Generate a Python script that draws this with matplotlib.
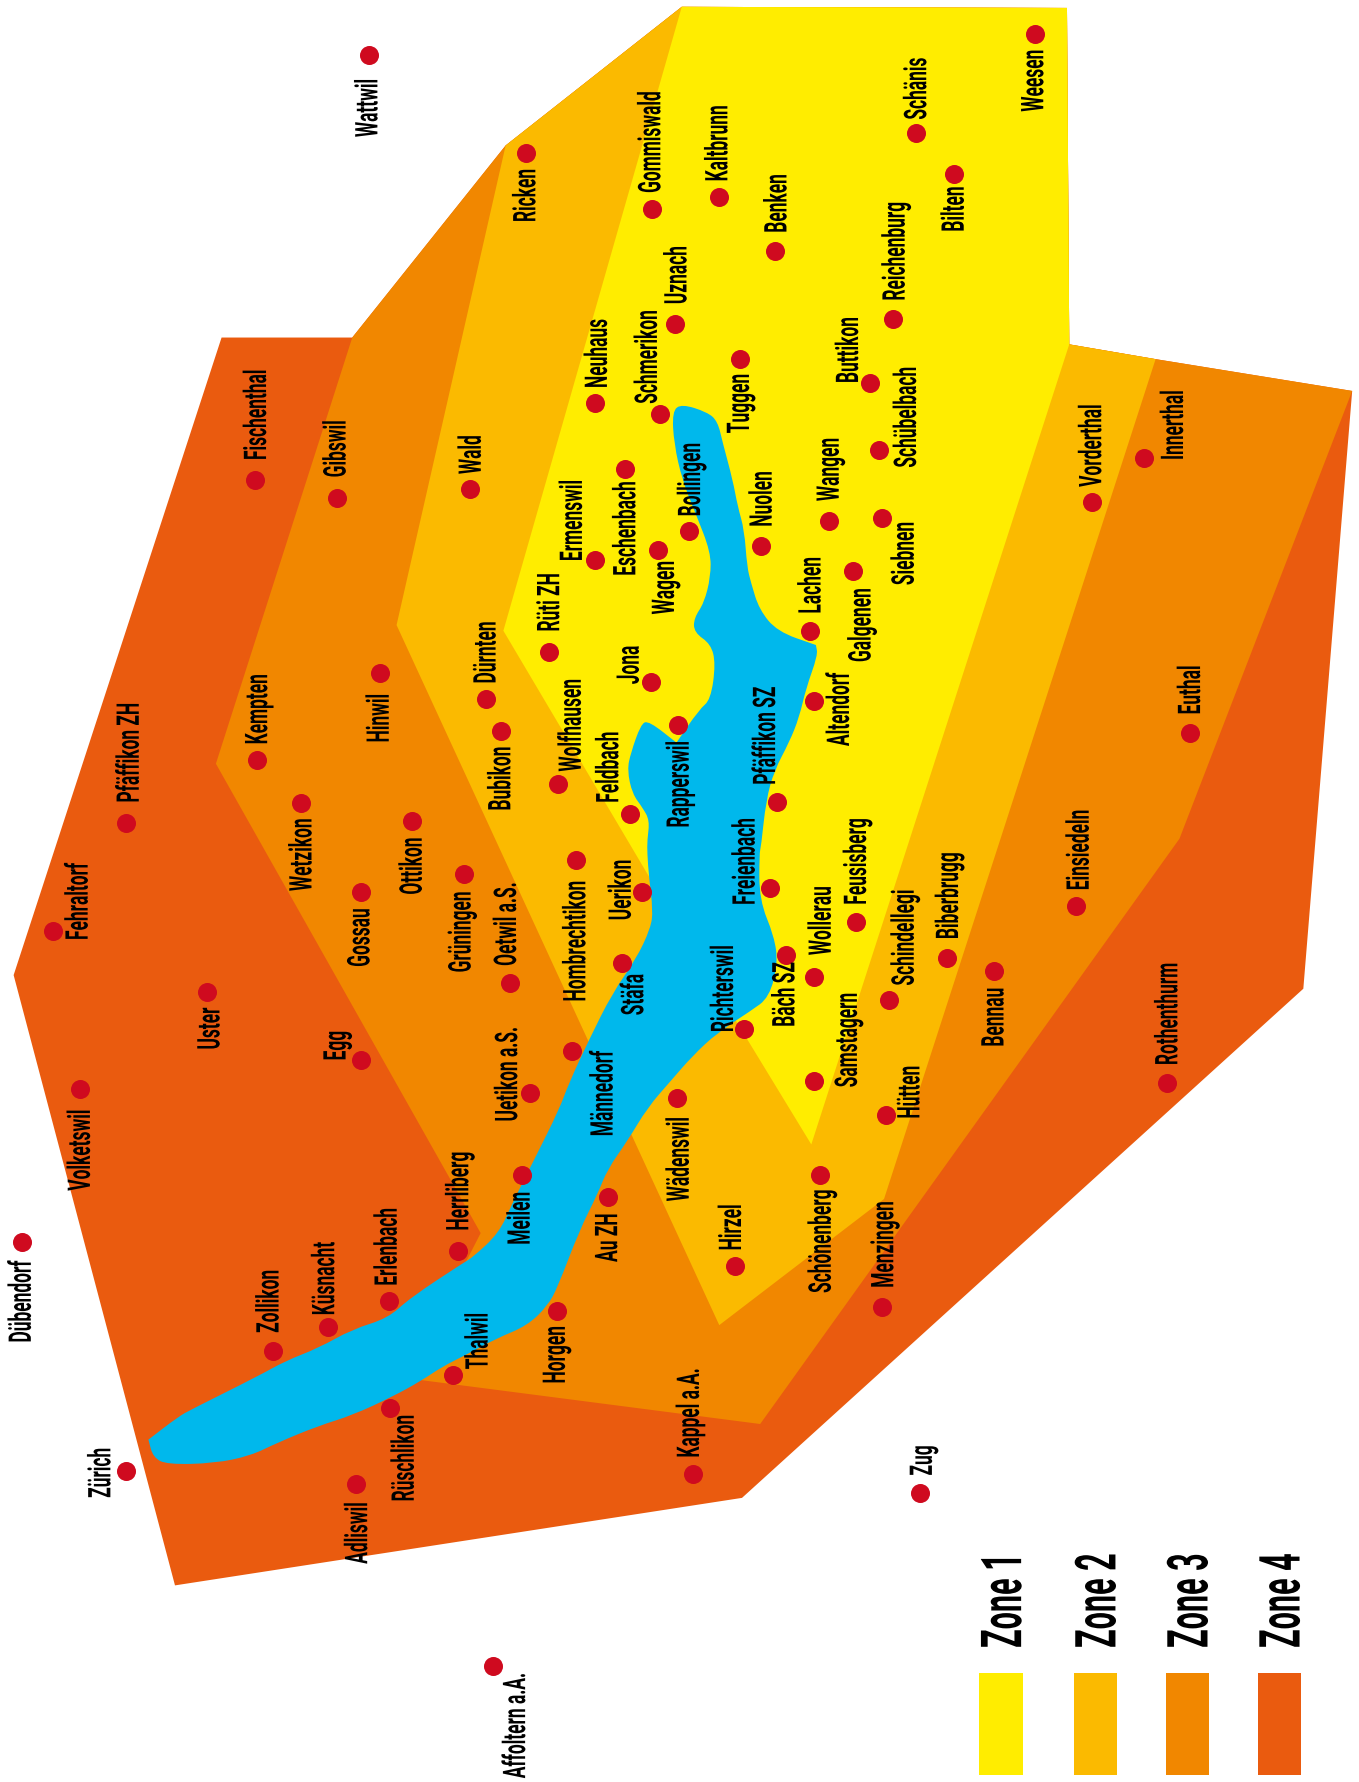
import numpy as np
import matplotlib
matplotlib.use("Agg")
import matplotlib.pyplot as plt
from matplotlib.patches import Polygon, Rectangle, PathPatch
from matplotlib.path import Path
from matplotlib.patheffects import AbstractPathEffect
from matplotlib.transforms import Affine2D

plt.rcParams['font.family'] = ['Roboto', 'DejaVu Sans']

# map coordinates, y pointing down
zone4_outline = [(12, 858), (195, 297), (310, 297), (445, 128), (600, 6), (939, 7), (941, 303),
                 (1017, 316), (1190, 344), (1147, 870), (653, 1318), (154, 1395)]
zone3_outline = [(190, 672), (310, 297), (445, 128), (600, 6), (939, 7), (941, 303), (1017, 316),
                 (1190, 344), (1038, 738), (669, 1253), (360, 1213), (400, 1130), (423, 1085)]
zone2_outline = [(349, 550), (445, 128), (600, 6), (939, 7), (941, 303), (1017, 316),
                 (778, 1055), (633, 1166)]
zone1_outline = [(443, 555), (600, 6), (939, 7), (941, 303), (714, 1007), (600, 820)]

# lake traced in full image pixels, a repeated point keeps a corner sharp
lake_x = [681.7, 706.7, 716.7, 721.7, 731.7, 736.7, 743.3, 746, 750, 758.3, 776.7, 815, 815, 816.7, 805,
          798.3, 788.3, 773.3, 765, 760, 758.3, 758.3, 773.3, 776.7, 768.3, 750, 716.7, 691.7, 670,
          646.7, 626.7, 606.7, 596.7, 578.3, 556.7, 546.7, 526.8, 495.5, 464.3, 442, 419.6, 392.9,
          352.7, 317, 276.8, 250, 214.3, 167.4, 154, 149.6, 149.6, 178.6, 192, 259, 285.7, 319, 352.7,
          388.4, 410.7, 464.3, 473.3, 500, 513.3, 536.7, 560, 570, 590, 613.3, 636.7, 651.7, 654,
          650, 648.3, 648.3, 650.7, 643.3, 633.3, 628.3, 631.7, 641.7, 648.3, 676.7, 676.7, 700,
          711.7, 716.7, 711.7, 695, 695, 705, 711.7, 711.7, 696.7, 683.3, 675, 673.3]
lake_y = [405, 413, 421.7, 443, 480, 506.7, 530, 566.7, 583, 610, 632.3, 645.7, 645.7, 655, 688,
          716.7, 741.7, 770, 800, 846.7, 853, 900, 936.7, 963.3, 996.7, 1010, 1031.7, 1055, 1080,
          1106.7, 1140, 1168.3, 1193.3, 1230, 1286.7, 1305, 1324.5, 1337.5, 1354.3, 1365.4, 1380.3, 1395,
          1413.8, 1425, 1441.6, 1454.6, 1462, 1463.2, 1456.5, 1439.8, 1439.8, 1417.5, 1410, 1376.6, 1361.7, 1348.7, 1330,
          1319, 1298.5, 1263.2, 1258, 1233.3, 1203.3, 1156.7, 1110, 1083, 1040, 993.3, 960, 928.3, 910,
          876.7, 853.3, 840, 820, 806.7, 793.3, 770, 753.3, 725, 721.7, 744, 744, 710,
          700, 663.3, 643.3, 631.7, 618.3, 603.3, 576.7, 551.7, 513.3, 480, 443.3, 411.7]

towns = ["Wattwil", "Ricken", "Gommiswald", "Kaltbrunn", "Benken", "Weesen", "Schänis", "Bilten",
         "Reichenburg", "Uznach", "Schmerikon", "Neuhaus", "Tuggen", "Buttikon", "Schübelbach",
         "Fischenthal", "Gibswil", "Wald", "Vorderthal", "Innerthal", "Eschenbach", "Bollingen",
         "Ermenswil", "Wagen", "Nuolen", "Wangen", "Siebnen", "Lachen", "Galgenen", "Rüti ZH",
         "Dürnten", "Jona", "Altendorf", "Euthal", "Hinwil", "Kempten", "Bubikon", "Rapperswil",
         "Pfäffikon SZ", "Wolfhausen", "Feldbach", "Pfäffikon ZH", "Wetzikon", "Ottikon", "Einsiedeln",
         "Feusisberg", "Biberbrugg", "Freienbach", "Uerikon", "Grüningen", "Gossau", "Oetwil a.S.",
         "Hombrechtikon", "Fehraltorf", "Bäch SZ", "Wollerau", "Schindellegi", "Stäfa", "Bennau",
         "Richterswil", "Uster", "Samstagern", "Uetikon a.S.", "Egg", "Männedorf", "Volketswil",
         "Wädenswil", "Hütten", "Rothenthurm", "Meilen", "Au ZH", "Herrliberg", "Schönenberg", "Hirzel",
         "Menzingen", "Erlenbach", "Küsnacht", "Zollikon", "Dübendorf", "Thalwil", "Horgen", "Rüschlikon",
         "Kappel a.A.", "Zug", "Zürich", "Adliswil", "Affoltern a.A."]
dot_x = [325, 463, 574, 633, 682, 911, 806, 840, 786, 594, 581, 524, 651, 766, 774, 224, 297, 414, 961,
         1007, 550, 606, 524, 579, 670, 730, 776, 713, 751, 483, 428, 573, 716, 1047, 334, 226, 441, 597,
         684, 491, 554, 111, 265, 363, 947, 753, 833, 678, 565, 408, 318, 449, 507, 47, 692, 716, 782, 547,
         875, 655, 182, 716, 466, 318, 503, 70, 596, 780, 1027, 459, 535, 403, 722, 647, 776, 342, 289, 240,
         19, 399, 490, 343, 610, 810, 111, 313, 434]
dot_y = [48, 135, 184, 173, 221, 30, 117, 153, 281, 285, 364, 355, 316, 337, 396, 422, 438, 430, 442,
         403, 413, 467, 493, 484, 480, 458, 456, 555, 502, 574, 615, 600, 617, 645, 592, 669, 643, 638,
         706, 690, 716, 724, 707, 722, 797, 811, 843, 781, 785, 769, 785, 865, 757, 819, 840, 860, 880, 847,
         854, 905, 873, 951, 962, 933, 925, 958, 966, 981, 953, 1034, 1053, 1101, 1034, 1114, 1150, 1145, 1168, 1189,
         1093, 1210, 1154, 1239, 1297, 1314, 1294, 1306, 1466]
label_x = [325, 464, 574, 633, 685, 911, 808, 841, 789, 597, 571, 527, 652, 748, 799, 227, 297, 416, 962,
           1034, 552, 609, 505, 586, 672, 731, 797, 715, 759, 485, 429, 555, 740, 1049, 335, 228, 442, 599,
           675, 504, 537, 115, 267, 364, 951, 755, 836, 657, 548, 407, 318, 447, 508, 70, 692, 724, 797, 559,
           876, 638, 186, 747, 448, 297, 532, 72, 599, 802, 1029, 459, 536, 405, 724, 645, 779, 342, 287, 238,
           20, 422, 490, 357, 608, 813, 90, 316, 455]
label_y = [95, 172, 125, 126, 179, 71, 78, 184, 221, 242, 314, 311, 355, 308, 367, 365, 395, 400, 392,
           374, 465, 422, 458, 517, 439, 413, 487, 515, 550, 530, 574, 585, 624, 607, 632, 624, 685, 690,
           647, 638, 675, 662, 752, 762, 748, 758, 788, 758, 783, 820, 825, 813, 828, 793, 875, 810, 825, 875,
           895, 870, 905, 915, 945, 920, 962, 1012, 1020, 961, 892, 1072, 1089, 1048, 1092, 1080, 1095, 1097, 1125, 1145,
           1145, 1180, 1192, 1283, 1243, 1285, 1296, 1349, 1518]

zone_names = ["Zone 1", "Zone 2", "Zone 3", "Zone 4"]
zone_colors = ["#FFED00", "#FBBA00", "#F18700", "#EA5B0F"]
swatch_left = [862, 945, 1026, 1107]

SCALE = 1359 / 1196


class WidenAcross(AbstractPathEffect):
    """Stretch vertical text sideways, the reference face is a tall condensed one."""
    def __init__(self, centre, factor):
        super().__init__()
        self.stretch = Affine2D().translate(-centre, 0).scale(factor, 1).translate(centre, 0)

    def draw_path(self, renderer, gc, tpath, affine, rgbFace=None):
        renderer.draw_path(gc, tpath, affine + self.stretch, rgbFace)


def smooth_path(points):
    # closed quadratic curve that uses the traced points as control points
    mids = (points + np.roll(points, -1, axis=0)) / 2
    verts = [mids[-1]]
    codes = [Path.MOVETO]
    for p, m in zip(points, mids):
        verts += [p, m]
        codes += [Path.CURVE3, Path.CURVE3]
    return Path(verts, codes)


fig = plt.figure(figsize=(13.59, 17.82), dpi=100)
ax = fig.add_axes([0, 0, 1, 1])
ax.set_xlim(0, 1196)
ax.set_ylim(1568, 0)
ax.axis("off")

outlines = [zone4_outline, zone3_outline, zone2_outline, zone1_outline]
for outline, color in zip(outlines, zone_colors[::-1]):
    ax.add_patch(Polygon(outline, closed=True, facecolor=color, edgecolor="none", zorder=1))

lake = np.column_stack([lake_x, lake_y]) / SCALE
ax.add_patch(PathPatch(smooth_path(lake), facecolor="#00B8EC", edgecolor="#00B8EC", lw=1.5, zorder=2))

ax.plot(dot_x, dot_y, "o", color="#CF0A1F", ms=13.7, mew=0, zorder=3)
for name, x, y in zip(towns, label_x, label_y):
    t = ax.text(x, y, name, rotation=90, ha="center", va="center", fontsize=12.5,
                fontweight="bold", color="black", zorder=4)
    t.set_path_effects([WidenAcross(ax.transData.transform((x, y))[0], 1.8)])

for name, color, x in zip(zone_names, zone_colors, swatch_left):
    ax.add_patch(Rectangle((x, 1472), 38, 90, facecolor=color, edgecolor="none"))
    t = ax.text(x + 22, 1450, name, rotation=90, ha="center", va="bottom", fontsize=22,
                fontweight="bold", color="black")
    t.set_path_effects([WidenAcross(ax.transData.transform((x + 22, 1450))[0], 1.85)])

fig.savefig("out.png", dpi=100)
